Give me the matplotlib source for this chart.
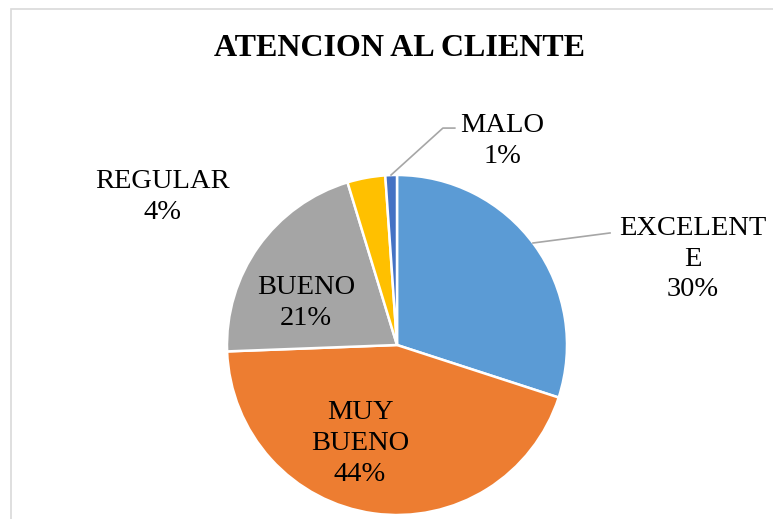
import matplotlib.pyplot as plt
from matplotlib.patches import Rectangle

# data
categorias = ['EXCELENTE', 'MUY BUENO', 'BUENO', 'REGULAR', 'MALO']
porcentajes = [30.0, 44.4, 20.9, 3.6, 1.1]
colores = ['#5B9BD5', '#ED7D31', '#A5A5A5', '#FFC000', '#4472C4']

# how each label is wrapped in the chart
etiquetas = ['EXCELENT\nE', 'MUY\nBUENO', 'BUENO', 'REGULAR', 'MALO']

# label centres (axes data units, pie radius = 1)
pos_etiquetas = [(1.741, 0.505), (-0.218, -0.58), (-0.535, 0.245),
                 (-1.382, 0.872), (0.618, 1.20)]

plt.rcParams['font.family'] = ['Liberation Serif', 'DejaVu Serif']

fig = plt.figure(figsize=(7.73, 5.19), dpi=100)
W, H = 773, 519

# chart border (cut at right and bottom like the original)
fig.patches.append(Rectangle((11 / W, -0.1), 1.2, 1 - 9 / H + 0.1,
                             transform=fig.transFigure, fill=False,
                             edgecolor='#D9D9D9', linewidth=1.2))

cx, cy, r = 397, 345, 170
ax = fig.add_axes([(cx - r) / W, (H - cy - r) / H, 2 * r / W, 2 * r / H])
ax.pie(porcentajes, colors=colores, startangle=90, counterclock=False,
       radius=1, wedgeprops=dict(edgecolor='white', linewidth=1.8))
ax.set_xlim(-1, 1)
ax.set_ylim(-1, 1)
ax.set_aspect('equal')
ax.axis('off')

for txt, v, (x, y) in zip(etiquetas, porcentajes, pos_etiquetas):
    ax.text(x, y, f'{txt}\n{round(v)}%', ha='center', va='center',
            multialignment='center', fontsize=20.5, linespacing=1.3,
            clip_on=False)

# leader lines
ax.plot([-0.035, 0.27, 0.34], [1.0, 1.276, 1.276], color='#A6A6A6',
        linewidth=1.2, clip_on=False)
ax.plot([0.80, 1.253], [0.60, 0.659], color='#A6A6A6', linewidth=1.2,
        clip_on=False)

fig.text(399 / W, 1 - 49 / H, 'ATENCION AL CLIENTE', ha='center',
         va='center', fontsize=23, fontweight='bold')

plt.savefig('out.png', dpi=100)
